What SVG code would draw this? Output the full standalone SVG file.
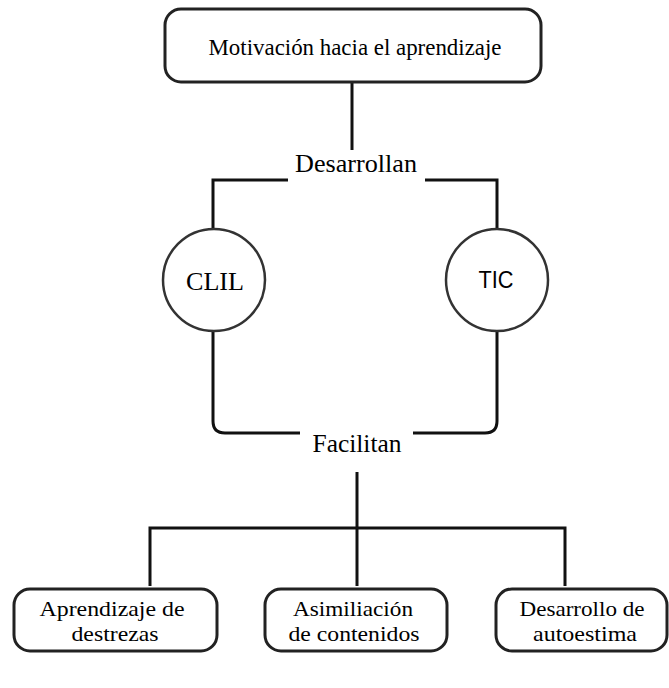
<svg xmlns="http://www.w3.org/2000/svg" width="669" height="688" viewBox="0 0 669 688">
<style>
.box{fill:#fff;stroke:#222;stroke-width:3}
.circ{fill:#fff;stroke:#333;stroke-width:2.5}
.ln{fill:none;stroke:#111;stroke-width:3}
.t{font-family:"Liberation Serif","Times New Roman",serif;font-size:24px;fill:#000;text-anchor:middle}
.b{font-size:22px}
.f{font-size:25px}
.l{font-size:26px}
.s{font-family:"Liberation Sans",Arial,sans-serif;font-size:24px;fill:#000;text-anchor:middle}
</style>
<rect width="669" height="688" fill="#fff"/>
<g id="connectors">
<line class="ln" x1="352" y1="82" x2="352" y2="150"/>
<polyline class="ln" points="288,180 213,180 213,229"/>
<polyline class="ln" points="425,180 497,180 497,229"/>
<path class="ln" d="M213,331 V421 Q213,433 225,433 H300"/>
<path class="ln" d="M413,433 H485 Q497,433 497,421 V331"/>
<line class="ln" x1="357" y1="472" x2="357" y2="586"/>
<polyline class="ln" points="150,586 150,528 565,528 565,586"/>
</g>
<g id="motivacion">
<rect class="box" x="165" y="9" width="376" height="73" rx="16"/>
<text class="t" x="355" y="55" textLength="293" lengthAdjust="spacingAndGlyphs">Motivación hacia el aprendizaje</text>
</g>
<g id="desarrollan">
<text class="t l" x="356" y="172" textLength="122" lengthAdjust="spacingAndGlyphs">Desarrollan</text>
</g>
<g id="clil">
<circle class="circ" cx="214" cy="280" r="51"/>
<text class="t l" x="215" y="290" textLength="58" lengthAdjust="spacingAndGlyphs">CLIL</text>
</g>
<g id="tic">
<circle class="circ" cx="497" cy="280" r="51"/>
<text class="s" x="496" y="288" textLength="35" lengthAdjust="spacingAndGlyphs">TIC</text>
</g>
<g id="facilitan">
<text class="t f" x="357" y="452" textLength="89" lengthAdjust="spacingAndGlyphs">Facilitan</text>
</g>
<g id="aprendizaje">
<rect class="box" x="14" y="589" width="203" height="62" rx="16"/>
<text class="t b" x="112" y="616" textLength="145" lengthAdjust="spacingAndGlyphs">Aprendizaje de</text>
<text class="t b" x="115" y="641" textLength="87" lengthAdjust="spacingAndGlyphs">destrezas</text>
</g>
<g id="asimiliacion">
<rect class="box" x="265" y="589" width="182" height="62" rx="16"/>
<text class="t b" x="353" y="616" textLength="120" lengthAdjust="spacingAndGlyphs">Asimiliación</text>
<text class="t b" x="354" y="641" textLength="131" lengthAdjust="spacingAndGlyphs">de contenidos</text>
</g>
<g id="autoestima">
<rect class="box" x="496" y="589" width="171" height="62" rx="16"/>
<text class="t b" x="582" y="616" textLength="125" lengthAdjust="spacingAndGlyphs">Desarrollo de</text>
<text class="t b" x="585" y="641" textLength="104" lengthAdjust="spacingAndGlyphs">autoestima</text>
</g>
</svg>
